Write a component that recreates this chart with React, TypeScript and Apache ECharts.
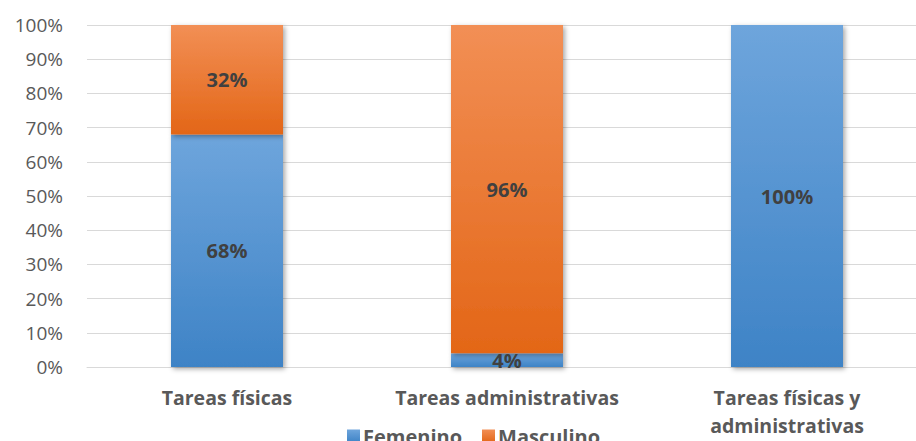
import React, { useEffect, useRef } from "react";
import * as echarts from "echarts";

const categories = ["Tareas físicas", "Tareas administrativas", "Tareas físicas y\nadministrativas"];
const femenino = [68, 4, 100];
const masculino = [32, 96, 0];
const yTicks = [0, 10, 20, 30, 40, 50, 60, 70, 80, 90, 100];

const FONT = "'Open Sans', 'Liberation Sans', sans-serif";

export default function App() {
  const ref = useRef<HTMLDivElement>(null);
  useEffect(() => {
    document.body.style.margin = "0";
    const chart = echarts.init(ref.current!, null, { renderer: "svg" });
    const blue = new echarts.graphic.LinearGradient(0, 0, 0, 1, [
      { offset: 0, color: "#6ea5dc" },
      { offset: 1, color: "#3e83c6" },
    ]);
    const orange = new echarts.graphic.LinearGradient(0, 0, 0, 1, [
      { offset: 0, color: "#f28f55" },
      { offset: 1, color: "#e36617" },
    ]);
    const label = {
      show: true,
      position: "inside" as const,
      fontFamily: FONT,
      fontWeight: "bold" as const,
      fontSize: 20,
      color: "#404040",
      formatter: (p: any) => (p.value ? p.value + "%" : ""),
    };
    const shadow = {
      shadowBlur: 5,
      shadowOffsetX: 2,
      shadowOffsetY: 2,
      shadowColor: "rgba(0,0,0,0.35)",
    };
    chart.setOption({
      animation: false,
      textStyle: { fontFamily: FONT },
      grid: { left: 87, top: 25, width: 840, height: 342 },
      legend: {
        data: ["Femenino", "Masculino"],
        top: 421,
        left: 342,
        itemWidth: 13,
        itemHeight: 13,
        itemGap: 20,
        icon: "rect",
        textStyle: { fontFamily: FONT, fontSize: 20, fontWeight: "bold", color: "#595959", padding: [0, 0, 0, -2] },
      },
      xAxis: {
        type: "category",
        data: categories,
        axisLine: { lineStyle: { color: "#d9d9d9", width: 1 } },
        axisTick: { show: false },
        axisLabel: {
          interval: 0,
          fontFamily: FONT,
          fontSize: 19.5,
          fontWeight: "bold",
          color: "#595959",
          margin: 16,
          lineHeight: 28,
        },
      },
      yAxis: {
        type: "value",
        min: yTicks[0],
        max: yTicks[yTicks.length - 1],
        interval: 10,
        axisLine: { show: false },
        axisTick: { show: false },
        splitLine: { lineStyle: { color: "#d9d9d9", width: 1 } },
        axisLabel: {
          formatter: "{value}%",
          fontFamily: FONT,
          fontSize: 19,
          color: "#595959",
          margin: 24,
        },
      },
      series: [
        {
          name: "Femenino",
          type: "bar",
          stack: "a",
          data: femenino,
          barWidth: "40%",
          itemStyle: { color: blue, ...shadow },
          label,
        },
        {
          name: "Masculino",
          type: "bar",
          stack: "a",
          data: masculino,
          barWidth: "40%",
          itemStyle: { color: orange, ...shadow },
          label,
        },
      ],
    });
    return () => chart.dispose();
  }, []);
  return (
    <div style={{ width: 916, height: 441, overflow: "hidden", position: "relative" }}>
      <div ref={ref} style={{ width: 940, height: 441 }} />
    </div>
  );
}
